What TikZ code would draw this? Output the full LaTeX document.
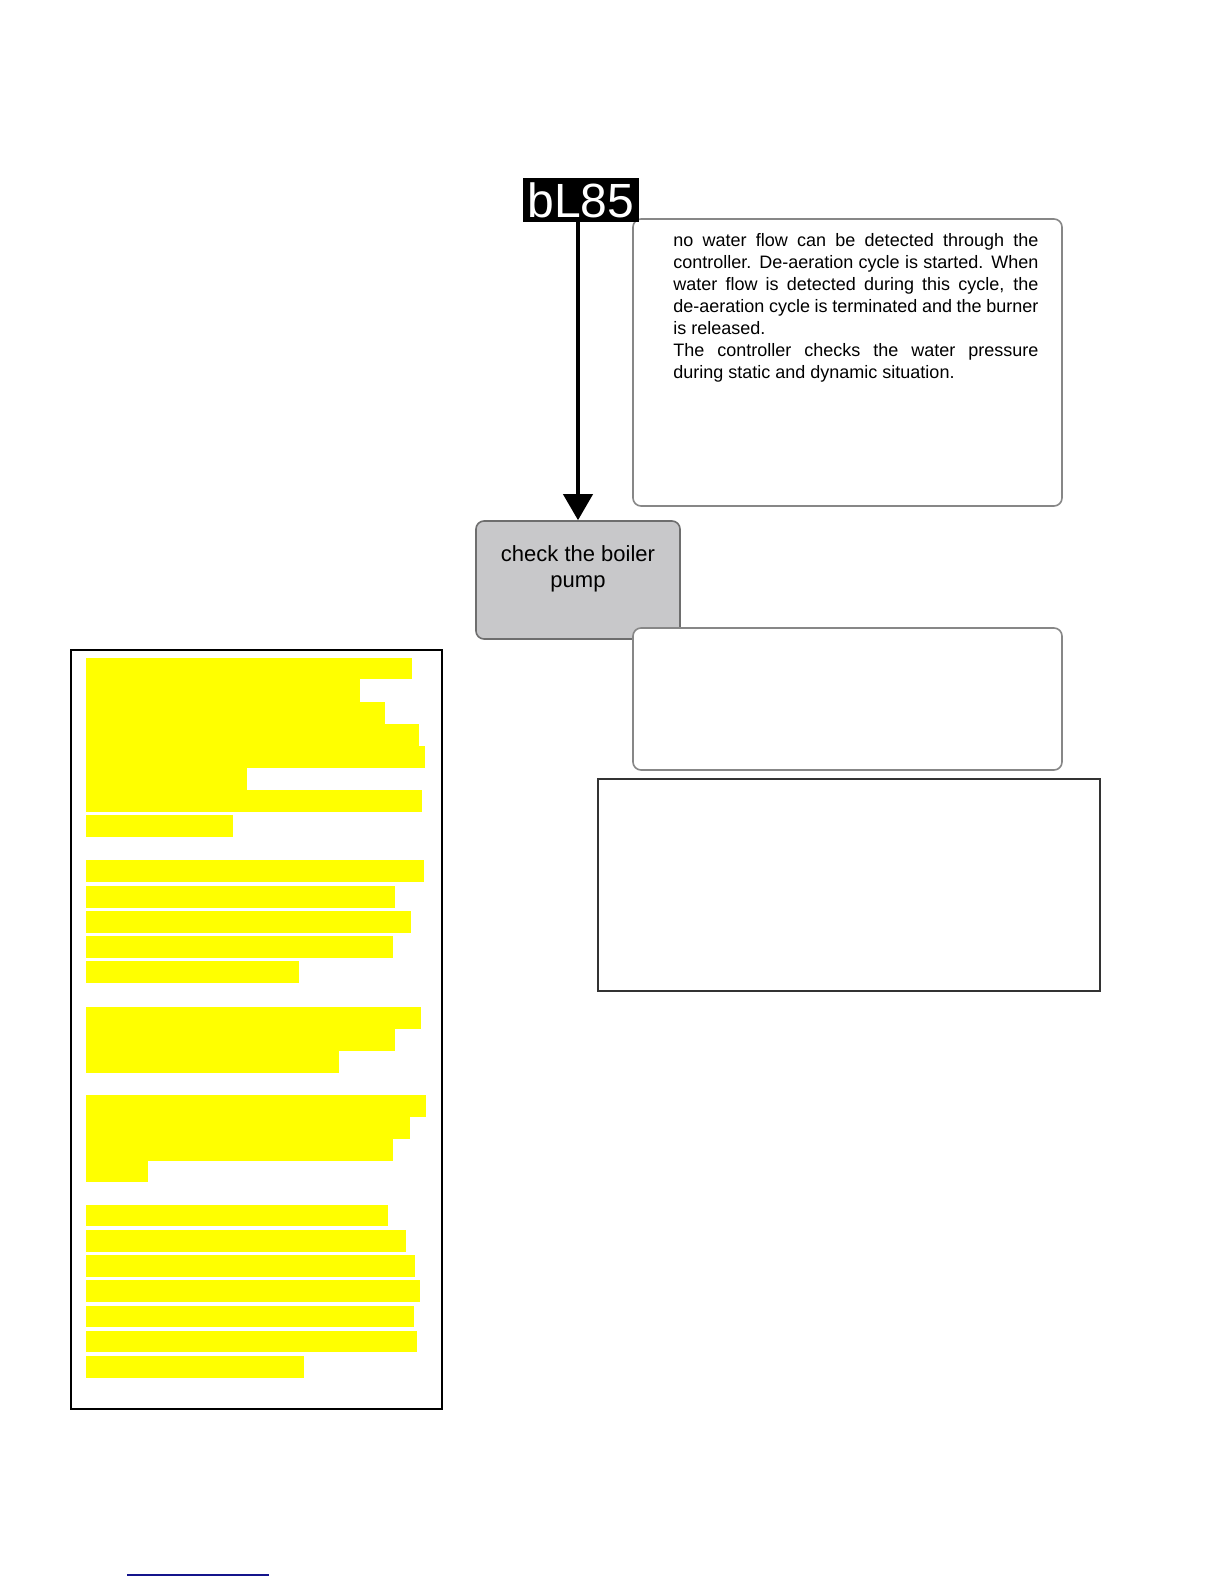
\documentclass[tikz,border=0pt]{standalone}
\usepackage{fontspec}
\setmainfont{Liberation Sans}
\usetikzlibrary{arrows.meta}
\definecolor{boxgray}{RGB}{135,135,135}
\definecolor{chkfill}{RGB}{200,200,202}
\definecolor{chkborder}{RGB}{110,110,110}
\definecolor{hl}{RGB}{255,255,0}
\definecolor{linkblue}{RGB}{20,20,140}
\begin{document}
\begin{tikzpicture}[x=0.5pt,y=-0.5pt,
  rbox/.style={draw=boxgray, line width=0.8pt, rounded corners=4pt, fill=white, inner sep=0pt},
  chkbox/.style={draw=chkborder, line width=0.8pt, rounded corners=4pt, fill=chkfill, inner sep=0pt},
  plainbox/.style={draw=black!80, line width=0.8pt, fill=white, inner sep=0pt},
  txtline/.style={anchor=base west, inner sep=0pt, font=\fontsize{9}{11}\selectfont},
  dispbox/.style={fill=black, text=white, inner sep=0pt, font=\fontsize{24}{24}\selectfont},
  flowarrow/.style={line width=2pt, -{Triangle[width=14.5pt,length=13pt]}}]
\useasboundingbox (0,0) rectangle (1224,1584);

% upper text box
\node[rbox, minimum width=214.5pt, minimum height=143.5pt] (info) at (847.5,362.5) {};
\node[txtline] (l1) at (673,246) {\makebox[182.5pt][s]{no water flow can be detected through the}};
\node[txtline] (l2) at (673,268) {\makebox[182.5pt][s]{controller. De-aeration cycle is started. When}};
\node[txtline] (l3) at (673,290) {\makebox[182.5pt][s]{water flow is detected during this cycle, the}};
\node[txtline] (l4) at (673,312) {\makebox[182.5pt][s]{de-aeration cycle is terminated and the burner}};
\node[txtline] (l5) at (673,334) {is released.};
\node[txtline] (l6) at (673,356) {\makebox[182.5pt][s]{The controller checks the water pressure}};
\node[txtline] (l7) at (673,378) {during static and dynamic situation.};

% display
\node[dispbox, minimum width=58pt, minimum height=22pt] (disp) at (581,200) {bL85};

% check box
\node[chkbox, minimum width=102pt, minimum height=59pt] (chk) at (578,580) {};
\node[anchor=base, inner sep=0pt, font=\fontsize{11}{13}\selectfont] (chk1) at (578,561) {check the boiler};
\node[anchor=base, inner sep=0pt, font=\fontsize{11}{13}\selectfont] (chk2) at (578,587) {pump};

\draw[flowarrow] (chk.north |- disp.south) -- (chk.north);

% lower boxes
\node[rbox, minimum width=214.5pt, minimum height=71pt] (note) at (847.5,699) {};
\node[plainbox, minimum width=251pt, minimum height=106pt] (frame) at (849,885) {};

% left highlighted box
\node[draw=black, line width=1pt, inner sep=0pt, minimum width=185.5pt, minimum height=379.5pt] (left) at (256.5,1029.5) {};
\foreach \a/\b/\r in {658/679/412, 679/702/360, 702/724/385, 724/746/419, 746/768/425, 768/790/247, 790/812/422,
  815/837/233,
  860/882/424, 886/908/395, 911/933/411, 936/958/393, 961/983/299,
  1007/1029/421, 1029/1051/395, 1051/1073/339,
  1095/1117/426, 1117/1139/410, 1139/1161/393, 1161/1182/148,
  1205/1226/388, 1230/1252/406, 1255/1277/415, 1280/1302/420, 1306/1327/414, 1331/1352/417, 1356/1378/304}
  \fill[hl] (86,\a) rectangle (\r,\b);

% footer line
\coordinate (fa) at (127,1575);
\coordinate (fb) at (269,1575);
\draw[linkblue, line width=0.6pt] (fa) -- (fb);
\end{tikzpicture}
\end{document}
